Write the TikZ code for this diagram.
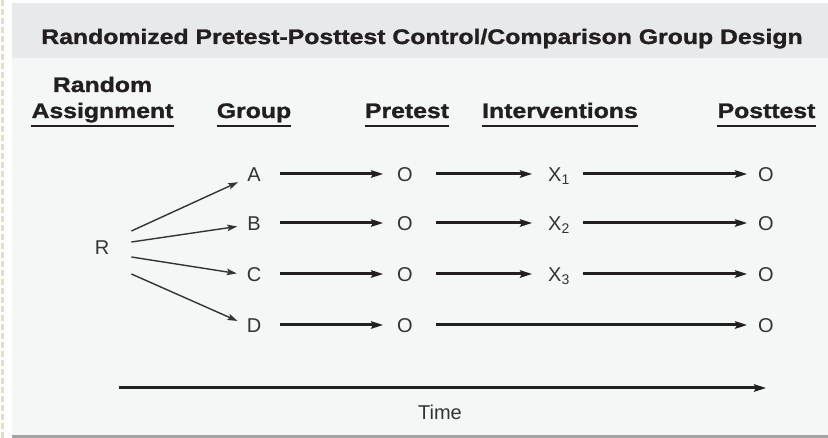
\documentclass[tikz,border=0pt]{standalone}
\usepackage{fontspec}
\setmainfont{Liberation Sans}
\newfontfamily\headfont[FakeStretch=1.18,FakeBold=1.3]{Liberation Sans Bold}
\usepackage{tikz}
\usetikzlibrary{arrows.meta}

\definecolor{bandgray}{HTML}{E8E9EB}
\definecolor{panelgray}{HTML}{F5F6F6}
\definecolor{inkdark}{HTML}{231F20}
\definecolor{inkgray}{HTML}{333333}
\definecolor{rulegray}{HTML}{A3A3A3}
\definecolor{pagebeige}{HTML}{E4DCCB}

\tikzset{
  head/.style={inner sep=0pt, font=\headfont\fontsize{21}{25}\selectfont, text=inkdark},
  lbl/.style={inner sep=0pt, text height=14.3pt, text depth=0pt, font=\fontsize{20}{24}\selectfont, text=inkgray},
  flow/.style={line width=3pt, draw=inkdark, -{Stealth[length=12pt,width=7.5pt,inset=2pt]}},
  split/.style={line width=1.4pt, draw=inkgray, -{Stealth[length=10pt,width=6.5pt,inset=2pt]}, shorten >=10pt},
  uline/.style={line width=2.8pt, draw=inkdark},
}

\begin{document}
\begin{tikzpicture}[x=1pt,y=-1pt]

\useasboundingbox (0,0) rectangle (828,438);
\fill[white] (0,0) rectangle (828,438);
\draw[pagebeige, line width=3pt, dash pattern=on 6pt off 3pt] (2,0) -- (2,438);

% panel and title band
\fill[panelgray] (12,3) rectangle (828,436);
\fill[bandgray] (12,3) rectangle (828,58);
\draw[rulegray, line width=3pt] (12,436.5) -- (828,436.5);

\node[head, anchor=base] (title) at (422,44)
{Randomized Pretest-Posttest Control/Comparison Group Design};

% column heads
\node[head, anchor=base] (hr) at (102.5,92) {Random};
\node[head, anchor=base] (ha) at (102.5,118) {Assignment};
\node[head, anchor=base] (hg) at (254,118) {Group};
\node[head, anchor=base] (hp) at (407,118) {Pretest};
\node[head, anchor=base] (hi) at (560,118) {Interventions};
\node[head, anchor=base] (hq) at (766.5,118) {Posttest};

\foreach \h in {ha,hg,hp,hi,hq}
  \draw[uline] ([yshift=-8pt]\h.base west) -- ([yshift=-8pt]\h.base east);

% random assignment
\node[lbl] (R) at (102,247) {R};

\node[lbl] (A) at (254,174) {A};
\node[lbl] (B) at (254,223) {B};
\node[lbl] (C) at (254,274) {C};
\node[lbl] (D) at (254,325) {D};

\draw[split] ([xshift=22pt,yshift=16pt]R.east) -- ([yshift=-4pt]A.west);
\draw[split] ([xshift=22pt,yshift=5pt]R.east) -- ([yshift=-2pt]B.west);
\draw[split] ([xshift=22pt,yshift=-10pt]R.east) -- ([yshift=-1pt]C.west);
\draw[split] ([xshift=22pt,yshift=-27pt]R.east) -- (D.west);

% pretest
\node[lbl] (pa) at (405,174) {O};
\node[lbl] (pb) at (405,223) {O};
\node[lbl] (pc) at (405,274) {O};
\node[lbl] (pd) at (405,325) {O};

% interventions
\node[lbl] (xa) at (559,174) {X\textsubscript{1}};
\node[lbl] (xb) at (559,223) {X\textsubscript{2}};
\node[lbl] (xc) at (559,274) {X\textsubscript{3}};

% posttest
\node[lbl] (qa) at (766,174) {O};
\node[lbl] (qb) at (766,223) {O};
\node[lbl] (qc) at (766,274) {O};
\node[lbl] (qd) at (766,325) {O};

\draw[flow, shorten <=19pt, shorten >=14pt] (A) -- (pa);
\draw[flow, shorten <=19pt, shorten >=14pt] (B) -- (pb);
\draw[flow, shorten <=19pt, shorten >=14pt] (C) -- (pc);
\draw[flow, shorten <=19pt, shorten >=14pt] (D) -- (pd);

\draw[flow, shorten <=23pt, shorten >=16pt] (pa) -- (xa);
\draw[flow, shorten <=23pt, shorten >=16pt] (pb) -- (xb);
\draw[flow, shorten <=23pt, shorten >=16pt] (pc) -- (xc);

\draw[flow, shorten <=13pt, shorten >=11pt] (xa) -- (qa);
\draw[flow, shorten <=13pt, shorten >=11pt] (xb) -- (qb);
\draw[flow, shorten <=13pt, shorten >=11pt] (xc) -- (qc);
\draw[flow, shorten <=23pt, shorten >=11pt] (pd) -- (qd);

% time axis
\coordinate (t0) at (119,388);
\coordinate (t1) at (766,388);
\draw[flow] (t0) -- (t1);
\node[lbl] (time) at (440,412.5) {Time};

\end{tikzpicture}
\end{document}
